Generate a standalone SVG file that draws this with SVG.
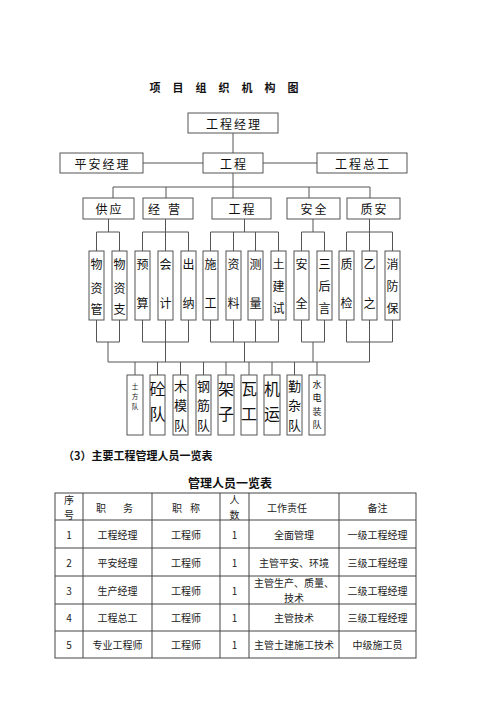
<svg xmlns="http://www.w3.org/2000/svg" width="500" height="708" viewBox="0 0 500 708">
<style>
.box{fill:#fff;stroke:#555;stroke-width:1}
.ln{fill:none;stroke:#555;stroke-width:1}
.tl{fill:none;stroke:#444;stroke-width:1}
text{font-family:"Noto Sans CJK SC","Noto Sans",sans-serif;fill:#111;text-anchor:middle;dominant-baseline:central}
.title{font-size:11px;font-weight:bold;letter-spacing:12px}
.h{font-size:12px;letter-spacing:2px}
.v{font-size:12px}
.b{font-size:16px}
.m{font-size:13px}
.q{font-size:9px}
.s{font-size:6.5px}
.t{font-size:10px;fill:#222}
.hd{font-size:11px;font-weight:bold;text-anchor:start}
.ht{font-size:12px;font-weight:bold}
</style>
<rect width="500" height="708" fill="#fff"/>
<text class="title" x="230" y="87">项目组织机构图</text>

<g id="connectors">
<path class="ln" d="M233 133V153M143 163H203M263 163H317M233 173V187M113 187H370M113 187V198M166 187V198M233 187V198M309 187V198M370 187V198"/>
<path class="ln" d="M108.5 219V232M96.5 232H119.5M96.5 232V251M119.5 232V251"/>
<path class="ln" d="M165.5 219V232M142.5 232H188.5M142.5 232V251M165.5 232V251M188.5 232V251"/>
<path class="ln" d="M244.5 219V232M210.5 232H278.5M210.5 232V251M233.5 232V251M255.5 232V251M278.5 232V251"/>
<path class="ln" d="M313 219V232M301.5 232H324.5M301.5 232V251M324.5 232V251"/>
<path class="ln" d="M369.5 219V232M346.5 232H392.5M346.5 232V251M369.5 232V251M392.5 232V251"/>
<path class="ln" d="M96.5 320V342M119.5 320V342M96.5 342H119.5M108 342V362"/>
<path class="ln" d="M142.5 320V342M165.5 320V342M188.5 320V342M142.5 342H188.5M165.5 342V362"/>
<path class="ln" d="M210.5 320V342M233.5 320V342M255.5 320V342M278.5 320V342M210.5 342H278.5M244.5 342V362"/>
<path class="ln" d="M301.5 320V342M324.5 320V342M301.5 342H324.5M313 342V362"/>
<path class="ln" d="M346.5 320V342M369.5 320V342M392.5 320V342M346.5 342H392.5M369.5 342V362"/>
<path class="ln" d="M108 362H369.5M135 362V375M157.5 362V375M180.5 362V375M203.5 362V375M226 362V375M249 362V375M272 362V375M294.5 362V375M317 362V375"/>
</g>

<g id="n-top"><rect class="box" x="188" y="113" width="90" height="20"/><text class="h" x="234" y="123">工程经理</text></g>
<g id="n-pa"><rect class="box" x="60" y="153" width="83" height="20"/><text class="h" x="102.5" y="163">平安经理</text></g>
<g id="n-gc"><rect class="box" x="203" y="153" width="60" height="20"/><text class="h" x="234" y="163">工程</text></g>
<g id="n-zg"><rect class="box" x="317" y="153" width="90" height="20"/><text class="h" x="363" y="163">工程总工</text></g>

<g id="n-gy"><rect class="box" x="83" y="198" width="51" height="21"/><text class="h" x="109.5" y="208.5">供应</text></g>
<g id="n-jy"><rect class="box" x="143" y="198" width="50" height="21"/><text class="h" x="168" y="208.5" style="letter-spacing:8px">经营</text></g>
<g id="n-gc2"><rect class="box" x="212" y="198" width="59" height="21"/><text class="h" x="242.5" y="208.5">工程</text></g>
<g id="n-aq"><rect class="box" x="287" y="198" width="53" height="21"/><text class="h" x="314.5" y="208.5">安全</text></g>
<g id="n-za"><rect class="box" x="347" y="198" width="53" height="21"/><text class="h" x="374.5" y="208.5">质安</text></g>

<g id="v1"><rect class="box" x="89" y="251" width="15" height="69"/><text class="v" x="96.5" y="263">物</text><text class="v" x="96.5" y="287">资</text><text class="v" x="96.5" y="308">管</text></g>
<g id="v2"><rect class="box" x="112" y="251" width="15" height="69"/><text class="v" x="119.5" y="263">物</text><text class="v" x="119.5" y="287">资</text><text class="v" x="119.5" y="308">支</text></g>
<g id="v3"><rect class="box" x="135" y="251" width="15" height="69"/><text class="v" x="142.5" y="263">预</text><text class="v" x="142.5" y="302">算</text></g>
<g id="v4"><rect class="box" x="158" y="251" width="15" height="69"/><text class="v" x="165.5" y="263">会</text><text class="v" x="165.5" y="302">计</text></g>
<g id="v5"><rect class="box" x="181" y="251" width="15" height="69"/><text class="v" x="188.5" y="263">出</text><text class="v" x="188.5" y="302">纳</text></g>
<g id="v6"><rect class="box" x="203" y="251" width="15" height="69"/><text class="v" x="210.5" y="263">施</text><text class="v" x="210.5" y="302">工</text></g>
<g id="v7"><rect class="box" x="226" y="251" width="15" height="69"/><text class="v" x="233.5" y="263">资</text><text class="v" x="233.5" y="302">料</text></g>
<g id="v8"><rect class="box" x="248" y="251" width="15" height="69"/><text class="v" x="255.5" y="263">测</text><text class="v" x="255.5" y="302">量</text></g>
<g id="v9"><rect class="box" x="271" y="251" width="15" height="69"/><text class="v" x="278.5" y="263">土</text><text class="v" x="278.5" y="285">建</text><text class="v" x="278.5" y="307">试</text></g>
<g id="v10"><rect class="box" x="294" y="251" width="15" height="69"/><text class="v" x="301.5" y="263">安</text><text class="v" x="301.5" y="302">全</text></g>
<g id="v11"><rect class="box" x="317" y="251" width="15" height="69"/><text class="v" x="324.5" y="263">三</text><text class="v" x="324.5" y="285">后</text><text class="v" x="324.5" y="307">言</text></g>
<g id="v12"><rect class="box" x="339" y="251" width="15" height="69"/><text class="v" x="346.5" y="263">质</text><text class="v" x="346.5" y="302">检</text></g>
<g id="v13"><rect class="box" x="362" y="251" width="15" height="69"/><text class="v" x="369.5" y="263">乙</text><text class="v" x="369.5" y="302">之</text></g>
<g id="v14"><rect class="box" x="385" y="251" width="15" height="69"/><text class="v" x="392.5" y="263">消</text><text class="v" x="392.5" y="285">防</text><text class="v" x="392.5" y="307">保</text></g>

<g id="b1"><rect class="box" x="127" y="375" width="16" height="60"/><text class="s" x="135" y="386">土</text><text class="s" x="135" y="396">方</text><text class="s" x="135" y="406">队</text></g>
<g id="b2"><rect class="box" x="150" y="375" width="15" height="60"/><text class="b" x="157.5" y="388">砼</text><text class="b" x="157.5" y="413">队</text></g>
<g id="b3"><rect class="box" x="173" y="375" width="15" height="60"/><text class="m" x="180.5" y="385">木</text><text class="m" x="180.5" y="404.5">模</text><text class="m" x="180.5" y="424">队</text></g>
<g id="b4"><rect class="box" x="196" y="375" width="15" height="60"/><text class="m" x="203.5" y="385">钢</text><text class="m" x="203.5" y="404.5">筋</text><text class="m" x="203.5" y="424">队</text></g>
<g id="b5"><rect class="box" x="218" y="375" width="16" height="60"/><text class="b" x="226" y="388">架</text><text class="b" x="226" y="413">子</text></g>
<g id="b6"><rect class="box" x="241" y="375" width="16" height="60"/><text class="b" x="249" y="388">瓦</text><text class="b" x="249" y="413">工</text></g>
<g id="b7"><rect class="box" x="264" y="375" width="16" height="60"/><text class="b" x="272" y="388">机</text><text class="b" x="272" y="413">运</text></g>
<g id="b8"><rect class="box" x="287" y="375" width="15" height="60"/><text class="m" x="294.5" y="385">勤</text><text class="m" x="294.5" y="404.5">杂</text><text class="m" x="294.5" y="424">队</text></g>
<g id="b9"><rect class="box" x="309" y="375" width="16" height="60"/><text class="q" x="317" y="384">水</text><text class="q" x="317" y="397.5">电</text><text class="q" x="317" y="411">装</text><text class="q" x="317" y="424.5">队</text></g>

<text class="hd" x="63" y="455">（3）主要工程管理人员一览表</text>
<text class="ht" x="230" y="482">管理人员一览表</text>

<g id="table">
<rect class="tl" x="55" y="493" width="361" height="165" stroke-width="1.3"/>
<path class="tl" d="M83 493V658M152 493V658M220 493V658M249 493V658M339 493V658M55 520H416M55 548H416M55 576H416M55 604H416M55 631H416"/>
<text class="t" x="69" y="499">序</text><text class="t" x="69" y="514">号</text>
<text class="t" x="101" y="507">职</text><text class="t" x="128" y="507">务</text>
<text class="t" x="177" y="507">职</text><text class="t" x="195" y="507">称</text>
<text class="t" x="234.5" y="499">人</text><text class="t" x="234.5" y="514">数</text>
<text class="t" x="287" y="507">工作责任</text>
<text class="t" x="377.5" y="507">备注</text>

<text class="t" x="69" y="534">1</text><text class="t" x="117.5" y="534">工程经理</text><text class="t" x="186" y="534">工程师</text><text class="t" x="234.5" y="534">1</text><text class="t" x="294" y="534">全面管理</text><text class="t" x="377.5" y="534">一级工程经理</text>
<text class="t" x="69" y="562">2</text><text class="t" x="117.5" y="562">平安经理</text><text class="t" x="186" y="562">工程师</text><text class="t" x="234.5" y="562">1</text><text class="t" x="294" y="562">主管平安、环境</text><text class="t" x="377.5" y="562">三级工程经理</text>
<text class="t" x="69" y="590">3</text><text class="t" x="117.5" y="590">生产经理</text><text class="t" x="186" y="590">工程师</text><text class="t" x="234.5" y="590">1</text><text class="t" x="294" y="582.5">主管生产、质量、</text><text class="t" x="294" y="597.5">技术</text><text class="t" x="377.5" y="590">二级工程经理</text>
<text class="t" x="69" y="617.5">4</text><text class="t" x="117.5" y="617.5">工程总工</text><text class="t" x="186" y="617.5">工程师</text><text class="t" x="234.5" y="617.5">1</text><text class="t" x="294" y="617.5">主管技术</text><text class="t" x="377.5" y="617.5">三级工程经理</text>
<text class="t" x="69" y="644.5">5</text><text class="t" x="117.5" y="644.5">专业工程师</text><text class="t" x="186" y="644.5">工程师</text><text class="t" x="234.5" y="644.5">1</text><text class="t" x="294" y="644.5">主管土建施工技术</text><text class="t" x="377.5" y="644.5">中级施工员</text>
</g>
</svg>
